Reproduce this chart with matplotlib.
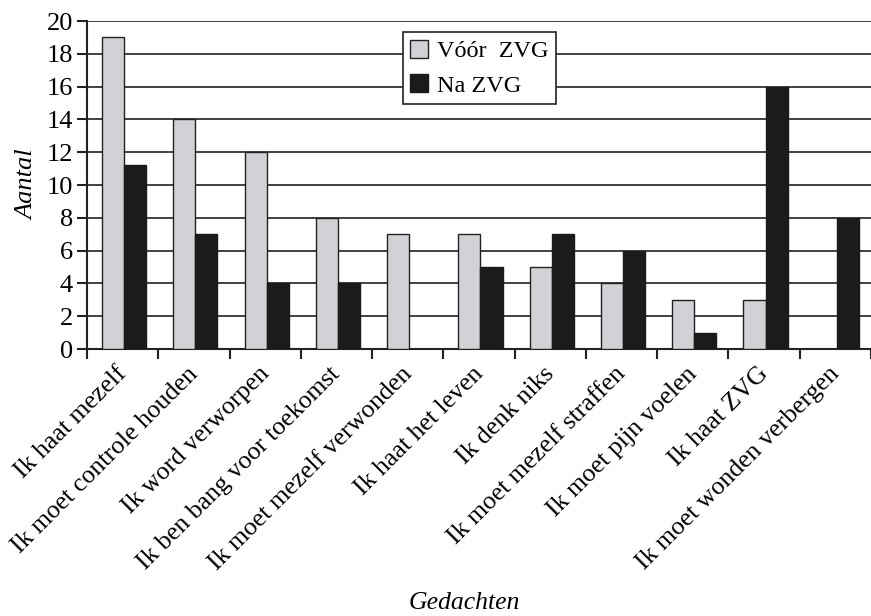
import matplotlib.pyplot as plt
import numpy as np

categories = ["Ik haat mezelf", "Ik moet controle houden", "Ik word verworpen",
              "Ik ben bang voor toekomst", "Ik moet mezelf verwonden", "Ik haat het leven",
              "Ik denk niks", "Ik moet mezelf straffen", "Ik moet pijn voelen",
              "Ik haat ZVG", "Ik moet wonden verbergen"]
voor_zvg = [19, 14, 12, 8, 7, 7, 5, 4, 3, 3, 0]
na_zvg = [11.2, 7, 4, 4, 0, 5, 7, 6, 1, 16, 8]

plt.rcParams['font.family'] = ['Liberation Serif', 'DejaVu Serif']

fig = plt.figure(figsize=(8.71, 6.16), dpi=100)
ax = fig.add_axes([0.0999, 0.4334, 0.9001, 0.5325])

x = np.arange(len(categories))
w = 0.31
ax.bar(x - w / 2 + 0.02, voor_zvg, w, color='#d2d2d6', edgecolor='#222222', lw=1, zorder=3, label='Vóór  ZVG')
ax.bar(x + w / 2 + 0.02, na_zvg, w, color='#1c1a1a', edgecolor='#1c1a1a', lw=1, zorder=3, label='Na ZVG')

# the plot runs off the right edge of the picture
ax.set_xlim(-0.5, 10.45)
ax.set_ylim(0, 20)
ax.set_yticks(range(0, 21, 2))
ax.yaxis.grid(True, color='#333333', lw=1.3, zorder=0)
ax.set_axisbelow(True)

# ticks on the category boundaries, labels under the groups
ax.set_xticks(np.arange(-0.5, len(categories)), minor=False)
ax.set_xticklabels([])
ax.set_xticks(x - 0.1, minor=True)
ax.set_xticklabels(categories, minor=True, rotation=45, ha='right', va='top',
                   rotation_mode='anchor', fontsize=18.5)
ax.tick_params(axis='x', which='minor', length=0, pad=10)
ax.tick_params(axis='x', which='major', length=7, width=1.5, direction='out', color='#222222')
ax.tick_params(axis='y', length=7, width=1.5, direction='out', labelsize=19, color='#222222', pad=3)

for s in ['top', 'right']:
    ax.spines[s].set_visible(False)
for s in ['left', 'bottom']:
    ax.spines[s].set_linewidth(1.5)
    ax.spines[s].set_color('#222222')

ax.set_ylabel('Aantal', fontsize=19, style='italic', labelpad=6)
fig.text(0.533, 0.012, 'Gedachten', ha='center', va='baseline', fontsize=18.5, style='italic')

leg = ax.legend(loc='upper left', bbox_to_anchor=(0.403, 0.965), fontsize=17.5, frameon=True,
                fancybox=False, edgecolor='#222222', framealpha=1, handlelength=0.75,
                handleheight=0.75, handletextpad=0.35, borderpad=0.3, labelspacing=0.5,
                borderaxespad=0)
leg.get_frame().set_linewidth(1.2)
leg.set_zorder(5)

fig.savefig('out.png', dpi=100)
